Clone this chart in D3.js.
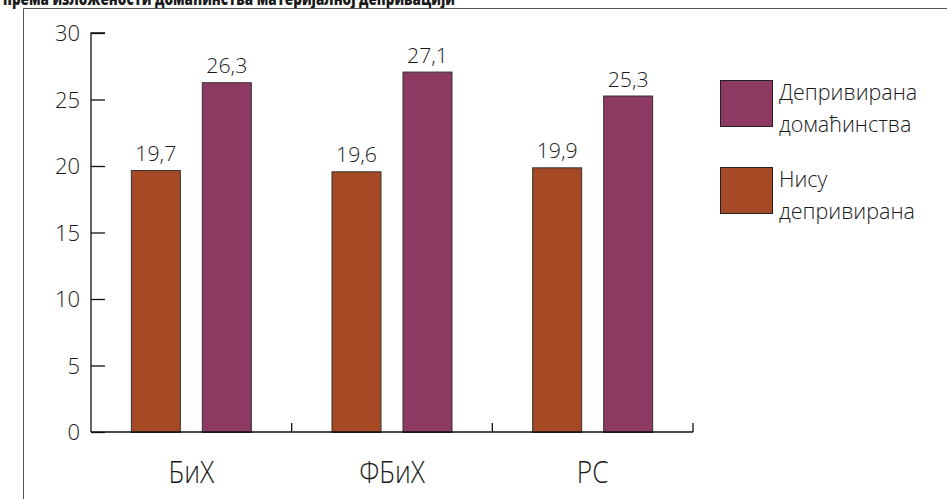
<!DOCTYPE html>
<html><head><meta charset="utf-8">
<script src="https://cdn.jsdelivr.net/npm/d3@7"></script>
<style>
html,body{margin:0;padding:0;background:#fff;}
svg{display:block;}
text{font-family:"Open Sans",sans-serif;fill:#1a1a1a;}
</style></head>
<body>
<script>
const categories = ["БиХ", "ФБиХ", "РС"];
const seriesNames = ["Нису депривирана", "Депривирана домаћинства"];
const notDeprived = [19.7, 19.6, 19.9];
const deprived = [26.3, 27.1, 25.3];
const yTicks = [0, 5, 10, 15, 20, 25, 30];
const title = "према изложености домаћинства материјалној депривацији";
const legendLines = [["Депривирана", "домаћинства"], ["Нису", "депривирана"]];
const colors = ["#A54A24", "#8D3A62"];

const W = 947, H = 499;
const svg = d3.select("body").append("svg").attr("width", W).attr("height", H);

// title (clipped at the top, as in the source)
svg.append("text").attr("x", 3).attr("y", 4.5)
  .attr("font-size", 17).attr("font-weight", 800)
  .attr("textLength", 452).attr("lengthAdjust", "spacingAndGlyphs")
  .text(title);

// frame
svg.append("path").attr("d", `M23.5,${H} V8.5 H${W}`)
  .attr("fill", "none").attr("stroke", "#555").attr("stroke-width", 1);

const x0 = 91, x1 = 693, yTop = 33, yBot = 432;
const x = d3.scaleBand().domain(categories).range([x0, x1]);
const y = d3.scaleLinear().domain([0, 30]).range([yBot, yTop]);

const barW = 50, gap = 21;
const inner = (x.bandwidth() - 2 * barW - gap) / 2;

const data = categories.map((c, i) => ({c, vals: [notDeprived[i], deprived[i]]}));

const g = svg.append("g");
data.forEach(d => {
  d.vals.forEach((v, j) => {
    const bx = x(d.c) + inner + j * (barW + gap);
    g.append("rect").attr("x", bx + 0.5).attr("y", y(v) + 0.5)
      .attr("width", barW - 1).attr("height", yBot - y(v))
      .attr("fill", colors[j]).attr("stroke", "#333").attr("stroke-width", 1);
    g.append("text").attr("x", bx + barW / 2).attr("y", y(v) - 9)
      .attr("text-anchor", "middle").attr("font-size", 21).attr("font-weight", 300)
      .attr("textLength", 41).attr("lengthAdjust", "spacingAndGlyphs")
      .text(String(v).replace(".", ","));
  });
});

// y axis
const yAxis = d3.axisRight(y).tickValues(yTicks).tickSize(14).tickFormat("");
const ya = svg.append("g").attr("transform", `translate(${x0},0)`).call(yAxis);
ya.selectAll("path,line").attr("stroke", "#111").attr("stroke-width", 1.3);
ya.select(".domain").attr("d", `M14,${yTop}H0V${yBot}`);
svg.selectAll(".ylab").data(yTicks).enter().append("text")
  .attr("x", 80).attr("y", d => y(d) + 8).attr("text-anchor", "end")
  .attr("font-size", 22).attr("font-weight", 300).text(d => d);

// x axis
const xa = svg.append("g").attr("transform", `translate(0,${yBot})`);
xa.append("line").attr("x1", x0).attr("x2", x1).attr("stroke", "#111").attr("stroke-width", 1.3);
categories.forEach(c => {
  const cx = x(c) + x.bandwidth() / 2;
  xa.append("line").attr("x1", x(c) + x.bandwidth()).attr("x2", x(c) + x.bandwidth())
    .attr("y1", 0).attr("y2", -9).attr("stroke", "#111").attr("stroke-width", 1.3);
  xa.append("text").attr("x", cx).attr("y", 51)
    .attr("text-anchor", "middle").attr("font-size", 31).attr("font-weight", 300)
    .attr("transform", `translate(${cx},0) scale(0.85,1) translate(${-cx},0)`)
    .text(c);
});

// legend
const lg = svg.append("g");
const legendItems = [{col: colors[1], lines: legendLines[0], y: 80}, {col: colors[0], lines: legendLines[1], y: 167}];
legendItems.forEach(it => {
  lg.append("rect").attr("x", 720.5).attr("y", it.y + 0.5).attr("width", 52).attr("height", 46)
    .attr("fill", it.col).attr("stroke", "#222").attr("stroke-width", 1);
  it.lines.forEach((t, k) => {
    lg.append("text").attr("x", 779).attr("y", it.y + 20 + k * 32)
      .attr("font-size", 21.5).attr("font-weight", 300).text(t);
  });
});
</script>
</body></html>
